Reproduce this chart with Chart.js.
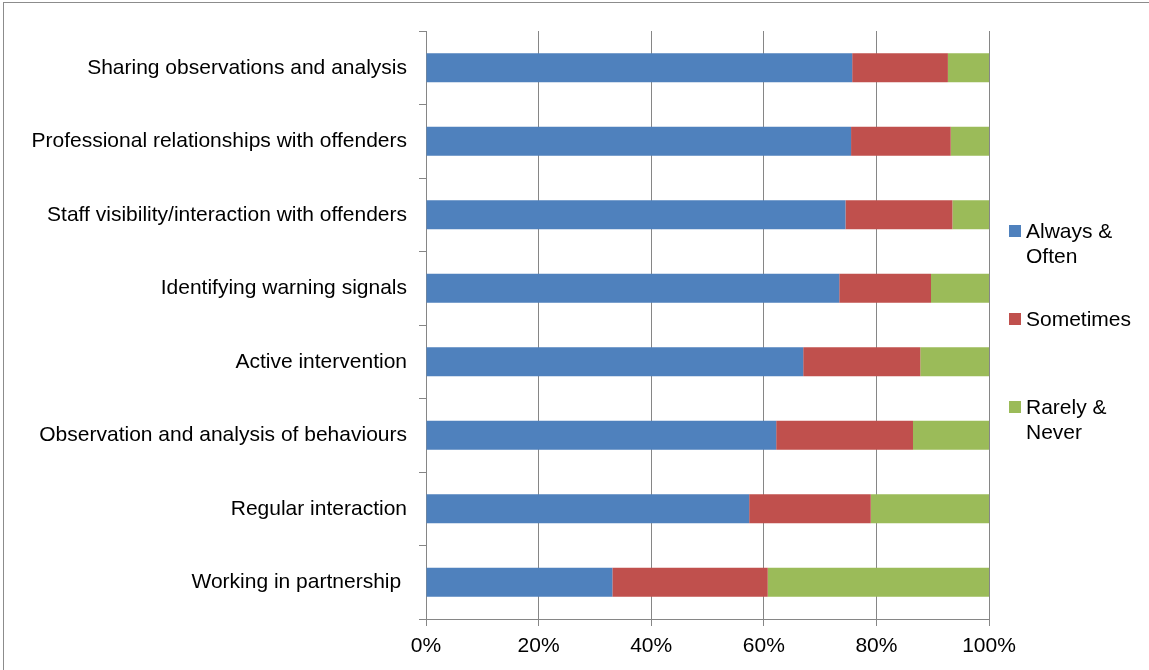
<!DOCTYPE html>
<html lang="en">
<head>
    <meta charset="UTF-8">
    <title>Frequency of dynamic security practices</title>
    <script src="https://cdn.jsdelivr.net/npm/chart.js"></script>
    <style>
        body {
            margin: 0;
            padding: 0;
            background-color: #fff;
            overflow: hidden;
        }
        .frame {
            position: absolute;
            left: 3px;
            top: 2px;
            width: 1200px;
            height: 700px;
            border-left: 1px solid #8c8c8c;
            border-top: 1px solid #8c8c8c;
        }
        .chart-box {
            position: absolute;
            left: 0;
            top: 0;
            width: 1149px;
            height: 670px;
        }
    </style>
</head>
<body>
    <div class="frame"></div>
    <div class="chart-box">
        <canvas id="practice-chart" width="1149" height="670"></canvas>
    </div>

    <script>
        // Practices, top to bottom
        var categories = [
            'Sharing observations and analysis',
            'Professional relationships with offenders',
            'Staff visibility/interaction with offenders',
            'Identifying warning signals',
            'Active intervention',
            'Observation and analysis of behaviours',
            'Regular interaction',
            'Working in partnership '
        ];

        // Share of responses (%) per frequency band
        var alwaysOften = [75.7, 75.5, 74.5, 73.4, 67.0, 62.2, 57.4, 33.1];
        var sometimes   = [17.0, 17.7, 19.0, 16.3, 20.8, 24.3, 21.6, 27.6];
        var rarelyNever = [7.3, 6.8, 6.5, 10.3, 12.2, 13.5, 21.0, 39.3];

        var seriesNames = ['Always & Often', 'Sometimes', 'Rarely & Never'];
        var xTicks = [0, 20, 40, 60, 80, 100];

        var blue = '#4f81bd';
        var red = '#c0504d';
        var green = '#9bbb59';
        var gridGray = '#868686';
        var font = { family: '"Liberation Sans", Arial, sans-serif', size: 21 };

        // Legend on the right, entries on a fixed pitch, long names wrapped
        var sideLegend = {
            id: 'sideLegend',
            afterDraw: function(chart, args, opts) {
                var ctx = chart.ctx;
                ctx.save();
                ctx.font = font.size + 'px ' + font.family;
                ctx.textBaseline = 'middle';
                ctx.textAlign = 'left';
                chart.data.datasets.forEach(function(ds, i) {
                    var y = opts.top + i * opts.pitch;
                    ctx.fillStyle = ds.backgroundColor;
                    ctx.fillRect(opts.x, y - 6, 12, 12);
                    // wrap the label to the available width
                    var words = ds.label.split(' ');
                    var lines = [];
                    var line = '';
                    words.forEach(function(w) {
                        var test = line ? line + ' ' + w : w;
                        if (line && ctx.measureText(test).width > opts.maxWidth) {
                            lines.push(line);
                            line = w;
                        } else {
                            line = test;
                        }
                    });
                    lines.push(line);
                    ctx.fillStyle = '#000';
                    lines.forEach(function(t, j) {
                        ctx.fillText(t, opts.x + 17, y + 1 + j * opts.lineHeight);
                    });
                });
                ctx.restore();
            }
        };

        var ctx = document.getElementById('practice-chart').getContext('2d');
        new Chart(ctx, {
            type: 'bar',
            data: {
                labels: categories,
                datasets: [
                    { label: seriesNames[0], data: alwaysOften, backgroundColor: blue },
                    { label: seriesNames[1], data: sometimes, backgroundColor: red },
                    { label: seriesNames[2], data: rarelyNever, backgroundColor: green }
                ]
            },
            options: {
                indexAxis: 'y',
                responsive: false,
                animation: false,
                layout: {
                    padding: { left: 0, right: 160, top: 31, bottom: 0 }
                },
                datasets: {
                    bar: {
                        categoryPercentage: 1.0,
                        barPercentage: 0.395,
                        borderWidth: 0
                    }
                },
                plugins: {
                    legend: { display: false },
                    tooltip: { enabled: false },
                    sideLegend: { x: 1009, top: 231, pitch: 88, lineHeight: 25, maxWidth: 115 }
                },
                scales: {
                    x: {
                        stacked: true,
                        min: 0,
                        max: 100,
                        afterBuildTicks: function(scale) {
                            scale.ticks = xTicks.map(function(v) { return { value: v }; });
                        },
                        afterFit: function(scale) {
                            scale.height = 51;
                        },
                        grid: {
                            color: gridGray,
                            lineWidth: 1,
                            tickLength: 7,
                            tickColor: gridGray
                        },
                        border: { color: gridGray, width: 1 },
                        ticks: {
                            color: '#000',
                            font: font,
                            padding: 8,
                            maxRotation: 0,
                            callback: function(v) { return v + '%'; }
                        }
                    },
                    y: {
                        stacked: true,
                        afterFit: function(scale) {
                            scale.width = 426;
                        },
                        grid: {
                            offset: true,
                            drawOnChartArea: false,
                            tickLength: 7,
                            tickColor: gridGray
                        },
                        border: { color: gridGray, width: 1 },
                        ticks: {
                            color: '#000',
                            font: font,
                            padding: 12,
                            autoSkip: false
                        }
                    }
                }
            },
            plugins: [sideLegend]
        });
    </script>
</body>
</html>
